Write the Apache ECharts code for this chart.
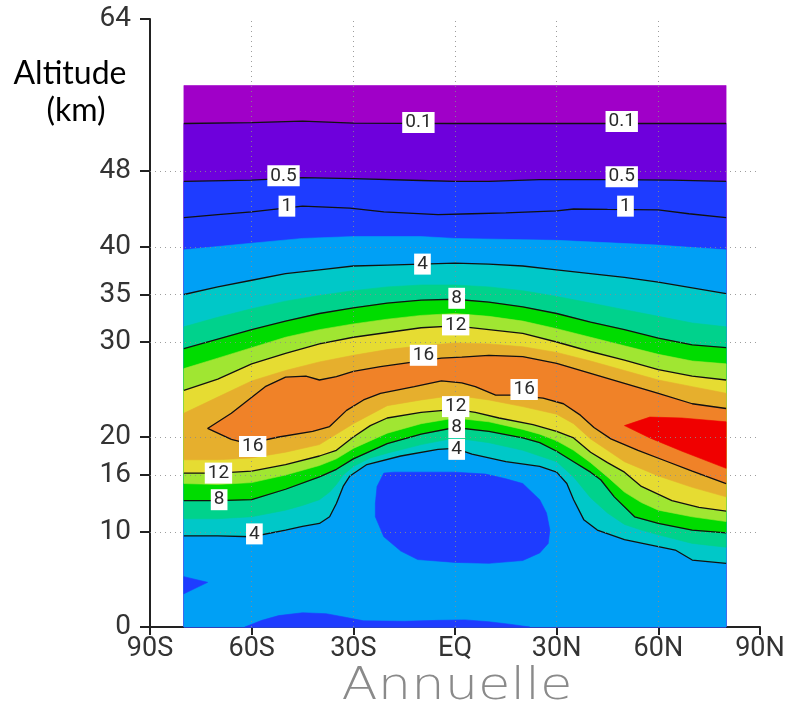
<!DOCTYPE html>
<html><head><meta charset="utf-8">
<script src="https://cdn.jsdelivr.net/npm/echarts@6/dist/echarts.min.js"></script>
<style>html,body{margin:0;padding:0;background:#fff}#c{width:789px;height:706px}</style>
</head><body><div id="c"></div>
<script>
// ---------------- data (latitude in degrees, altitude in km) ----------------
const xTickValues = [-90, -60, -30, 0, 30, 60, 90];
const xTickLabels = ['90S', '60S', '30S', 'EQ', '30N', '60N', '90N'];
const yTickValues = [0, 10, 16, 20, 30, 35, 40, 48, 64];
const dataDomain = [[-80, 0], [80, 0], [80, 57], [-80, 57]];

// contour / shading boundaries
const c01 = [[-80,53.0],[-60,53.1],[-45,53.25],[-30,53.05],[0,53.0],[30,53.0],[60,53.0],[80,53.0]];
const c05 = [[-80,46.9],[-60,47.05],[-45,47.3],[-30,47.2],[-10,47.0],[0,46.9],[10,46.9],[25,47.1],[45,47.1],[64,47.05],[80,46.9]];
const c1  = [[-80,43.1],[-70,43.4],[-60,43.7],[-45,44.3],[-31,44.1],[-21,43.7],[-5,43.4],[5,43.5],[15,43.6],[30,43.8],[35,44.0],[45,43.95],[60,43.9],[69,43.5],[80,43.1]];
const s2  = [[-80,39.7],[-60,40.4],[-45,40.9],[-30,41.1],[-10,41.1],[0,40.9],[30,40.7],[60,40.2],[80,39.7]];

const upper4  = [[-80,35.0],[-70,35.8],[-60,36.5],[-50,37.2],[-40,37.6],[-30,38.0],[-20,38.1],[-10,38.2],[0,38.3],[10,38.2],[20,38.0],[30,37.6],[40,37.2],[50,36.8],[60,36.3],[70,35.7],[80,35.1]];
const upper6  = [[-80,31.6],[-70,32.6],[-60,33.5],[-50,34.3],[-40,34.9],[-30,35.4],[-20,35.8],[-10,36.0],[0,36.0],[10,35.8],[20,35.4],[30,34.8],[40,34.1],[50,33.4],[60,32.7],[70,32.0],[80,31.6]];
const upper8  = [[-80,29.3],[-70,30.3],[-60,31.3],[-50,32.2],[-40,33.0],[-30,33.6],[-20,34.1],[-10,34.4],[0,34.5],[10,34.2],[20,33.7],[30,33.0],[40,32.1],[50,31.3],[60,30.4],[70,29.7],[80,29.4]];
const upper10 = [[-80,27.2],[-70,28.3],[-60,29.4],[-50,30.5],[-40,31.3],[-30,31.9],[-20,32.4],[-10,32.8],[0,33.0],[10,32.7],[20,32.2],[30,31.4],[40,30.5],[50,29.6],[60,28.7],[70,28.0],[80,27.7]];
const upper12 = [[-80,24.9],[-70,26.1],[-60,27.7],[-50,28.8],[-40,29.8],[-30,30.5],[-20,31.0],[-10,31.5],[0,31.7],[10,31.3],[20,30.9],[30,30.0],[40,29.0],[50,28.1],[60,27.1],[70,26.4],[80,26.0]];
const upper14 = [[-80,22.5],[-70,24.2],[-60,25.9],[-50,27.0],[-40,27.9],[-30,28.6],[-20,29.2],[-10,29.6],[0,29.9],[10,29.8],[20,29.5],[30,28.9],[40,28.0],[50,27.0],[60,26.0],[70,25.3],[80,24.6]];
const upper16 = [[-73,20.9],[-66,22.5],[-61,23.9],[-56,25.3],[-50,26.3],[-44,26.4],[-40,26.0],[-35,26.35],[-30,26.9],[-22,27.4],[-12,27.9],[-4,28.3],[2,28.4],[10,28.6],[20,28.45],[30,27.75],[40,26.7],[50,25.65],[60,24.6],[70,23.5],[80,23.0]];

const lower16 = [[-73,20.9],[-66,19.75],[-61,19.3],[-52,20.0],[-42,20.6],[-37,21.1],[-32,22.8],[-27,23.9],[-22,24.6],[-12,25.3],[-4,25.9],[2,25.7],[6,25.3],[12,24.4],[17,24.4],[26,24.1],[32,23.5],[37,22.3],[41,21.0],[46,19.8],[54,18.6],[62,17.5],[70,16.4],[80,15.1]];
const lower14 = [[-80,17.6],[-70,17.6],[-60,17.8],[-50,18.4],[-40,19.2],[-30,21.4],[-20,23.3],[-10,23.9],[0,24.4],[10,23.9],[20,23.2],[30,22.4],[35,21.4],[40,19.8],[45,18.6],[50,17.4],[60,15.9],[70,14.7],[80,13.7]];
const lower12 = [[-80,16.2],[-70,16.2],[-60,16.4],[-50,17.1],[-40,18.0],[-35,18.6],[-30,20.0],[-25,21.2],[-20,22.0],[-10,22.6],[0,22.9],[6,22.6],[13,22.0],[23,21.3],[30,20.6],[35,19.9],[40,18.4],[45,17.3],[50,16.3],[55,14.8],[64,13.3],[72,12.6],[80,12.2]];
const lower10 = [[-80,15.1],[-70,15.0],[-60,15.2],[-50,16.0],[-40,17.0],[-35,17.7],[-30,18.8],[-20,20.4],[-10,21.4],[0,22.0],[10,21.6],[20,20.8],[25,20.3],[30,19.6],[35,18.6],[40,17.3],[45,15.8],[50,14.2],[55,13.1],[60,12.3],[70,11.6],[80,11.1]];
const lower8  = [[-80,13.3],[-70,13.3],[-60,13.4],[-50,14.5],[-40,15.8],[-35,16.6],[-30,17.7],[-20,19.3],[-10,20.3],[0,21.0],[10,20.6],[20,19.9],[25,19.4],[30,18.5],[35,17.4],[40,16.3],[43,15.5],[47,13.7],[53,11.6],[60,10.9],[70,10.2],[80,9.9]];
const lower6  = [[-80,11.4],[-70,11.4],[-60,11.6],[-50,12.3],[-45,12.8],[-40,13.4],[-37,14.2],[-35,15.0],[-33,16.0],[-30,16.9],[-25,17.8],[-20,18.3],[-10,19.2],[0,19.9],[10,19.4],[20,18.6],[25,18.0],[30,17.4],[35,15.8],[40,13.6],[45,12.0],[50,10.8],[55,10.2],[60,9.7],[70,8.8],[80,8.4]];
const lower4  = [[-80,9.6],[-70,9.6],[-60,9.5],[-50,10.2],[-45,10.6],[-40,10.9],[-37,11.6],[-35,13.0],[-33,14.8],[-31,15.9],[-26,17.1],[-16,18.0],[-5,18.7],[0,18.8],[5,18.2],[15,17.4],[25,16.9],[30,16.3],[33,15.1],[35,13.4],[38,11.3],[42,10.2],[50,9.2],[60,8.45],[65,8.1],[70,7.05],[80,6.7]];

const redCore     = [[50,21.2],[57.5,22.1],[67,22.0],[80,21.6],[80,16.7],[67,18.5],[57.5,19.9]];
const tropicBlob  = [[-21,16.2],[-23,14.8],[-23.5,13.0],[-23.5,11.6],[-21,9.5],[-16,8.0],[-11,7.1],[0,6.8],[10,6.7],[20,7.0],[25,7.8],[27.5,8.8],[28,10.2],[27,12.0],[25,13.4],[20,15.1],[15,15.6],[9,16.1],[0,16.3],[-10,16.3],[-18,16.3]];
const surfaceStrip= [[-62,0],[-57,0.7],[-52,1.2],[-45,1.5],[-38,1.4],[-32,1.0],[-27,0.65],[-15,0.6],[-5,0.7],[3,0.75],[10,0.55],[16,0.3],[22,0]];
const southPocket = [[-80,5.3],[-73,4.7],[-80,3.5]];

const contourLabels = [
  [-10.8,53.1,'0.1'],[49.2,53.2,'0.1'],
  [-50.6,47.5,'0.5'],[49.2,47.4,'0.5'],
  [-49.6,44.3,'1'],[50.3,44.3,'1'],
  [-9.6,38.2,'4'],[0.5,34.6,'8'],[0.2,31.8,'12'],[-9.3,28.6,'16'],
  [20.4,25.0,'16'],[0.2,23.2,'12'],[0.5,21.0,'8'],[0.5,18.7,'4'],
  [-59.7,19.0,'16'],[-69.8,16.2,'12'],[-69.6,13.4,'8'],[-59.2,9.8,'4']
];

// ---------------- styles ----------------
const C = {
  lt01:'#a000c8', b01_05:'#6e00dc', b05_2:'#1e3cff', b2_4:'#00a0f5', b4_6:'#00c8c8',
  b6_8:'#00d28c', b8_10:'#00dc00', b10_12:'#a0e632', b12_14:'#e6dc32',
  b14_16:'#e6af2d', b16_18:'#f08228', gt18:'#f00000'
};

// ---------------- build ----------------
const bottomEdge = [[80,0],[-80,0]];
const band = (up, lo) => up.concat(lo.slice().reverse());
const fills = [
  [dataDomain, C.lt01],
  [c01.concat(bottomEdge), C.b01_05],
  [c05.concat(bottomEdge), C.b05_2],
  [s2.concat(bottomEdge), C.b2_4],
  [tropicBlob, C.b05_2],
  [surfaceStrip, C.b05_2],
  [southPocket, C.b05_2],
  [band(upper4, lower4), C.b4_6],
  [band(upper6, lower6), C.b6_8],
  [band(upper8, lower8), C.b8_10],
  [band(upper10, lower10), C.b10_12],
  [band(upper12, lower12), C.b12_14],
  [band(upper14, lower14), C.b14_16],
  [band(upper16, lower16), C.b16_18],
  [redCore, C.gt18]
];
const series = [];
fills.forEach(([pts, color], i) => {
  series.push({
    type: 'custom', coordinateSystem: 'cartesian2d', silent: true, z: 2,
    data: pts,
    renderItem: (params, api) => {
      if (params.dataIndex !== 0) return null;
      return { type: 'polygon', z2: i,
        shape: { points: pts.map(p => api.coord(p)) },
        style: { fill: color, stroke: color, lineWidth: 0.6 } };
    }
  });
});
const lines = [c01, c05, c1, upper4, upper8, upper12, upper16, lower16, lower12, lower8, lower4];
lines.forEach(l => series.push({
  type: 'line', data: l, showSymbol: false, silent: true, z: 5,
  lineStyle: { color: '#111', width: 1.3 }
}));
series.push({
  type: 'scatter', data: contourLabels, symbolSize: 0, silent: true, z: 10,
  itemStyle: { opacity: 1 },
  label: { show: true, position: 'inside', formatter: p => p.value[2],
    fontFamily: 'Roboto', fontSize: 19, color: '#2a2a2a', backgroundColor: '#fff',
    padding: [1, 3, 0, 3], lineHeight: 20 },
  markLine: { silent: true, symbol: 'none', z: 6,
    lineStyle: { color: 'rgba(140,140,140,0.85)', width: 1, type: [1, 4] },
    label: { show: false },
    data: xTickValues.slice(1, -1).map(v => ({ xAxis: v }))
      .concat(yTickValues.slice(1, -1).map(v => ({ yAxis: v }))) }
});

const chart = echarts.init(document.getElementById('c'), null, { renderer: 'canvas' });
chart.setOption({
  animation: false,
  backgroundColor: '#fff',
  grid: { left: 150, right: 29, top: 19, bottom: 79 },
  xAxis: {
    type: 'value', min: -90, max: 90, interval: 30,
    axisLine: { onZero: false, lineStyle: { color: '#222', width: 2 } },
    axisTick: { show: true, length: 8, lineStyle: { color: '#222', width: 2 } },
    axisLabel: { formatter: v => xTickLabels[xTickValues.indexOf(v)], fontFamily: 'Roboto',
      fontSize: 27, color: '#333', margin: 9, showMinLabel: true, showMaxLabel: true },
    splitLine: { show: false }
  },
  yAxis: {
    type: 'value', min: 0, max: 64,
    axisLine: { show: true, onZero: false, lineStyle: { color: '#222', width: 2 } },
    axisTick: { show: true, length: 10, customValues: yTickValues, lineStyle: { color: '#222', width: 2 } },
    axisLabel: { customValues: yTickValues, fontFamily: 'Roboto', fontSize: 28, color: '#333', margin: 19 },
    splitLine: { show: false }
  },
  graphic: [
    { type: 'text', x: 70, y: 74, style: { text: 'Altitude', fontFamily: 'Lato', fontSize: 32,
      fill: '#000', align: 'center', verticalAlign: 'middle' } },
    { type: 'text', x: 76, y: 111, style: { text: '(km)', fontFamily: 'Lato', fontSize: 32,
      fill: '#000', align: 'center', verticalAlign: 'middle' } },
    { type: 'text', x: 457, y: 688, scaleX: 1.2, originX: 0,
      style: { text: 'Annuelle', fontFamily: 'DejaVu Sans', fontWeight: 200, fontSize: 44, fill: '#8a8a8a',
        align: 'center', verticalAlign: 'middle' } }
  ],
  series
});
</script></body></html>
